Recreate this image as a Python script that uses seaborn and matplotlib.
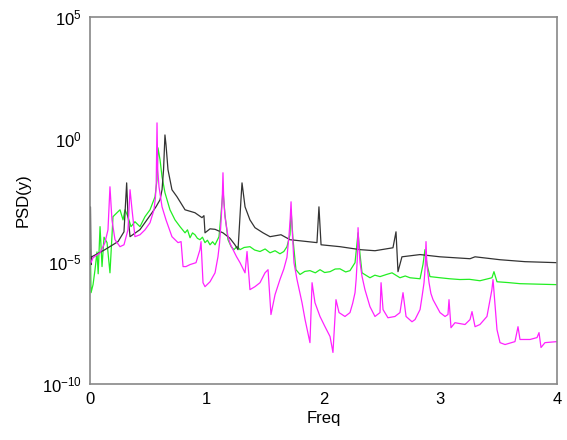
import matplotlib
matplotlib.use("Agg")
import matplotlib.pyplot as plt
import pandas as pd
import seaborn as sns

# ---- data ----
black_f = [0.004, 0.009, 0.015, 0.128, 0.240, 0.291, 0.314, 0.325, 0.343, 0.428, 0.531, 0.565,
           0.600, 0.617, 0.630, 0.642, 0.651, 0.668, 0.702, 0.745, 0.814, 0.899, 0.959,
           0.976, 0.985, 1.028, 1.071, 1.139, 1.199, 1.240, 1.268, 1.293, 1.302, 1.328,
           1.370, 1.413, 1.482, 1.542, 1.636, 1.713, 1.944, 1.961, 1.979, 2.141, 2.313,
           2.441, 2.595, 2.621, 2.638, 2.672, 2.827, 2.998, 3.255, 3.298, 3.512, 3.726, 4.0]
black_psd = [1.74e-3, 7.6e-6, 1.58e-5, 3.1e-5, 6.6e-5, 1.66e-4, 1.66e-2, 8.3e-4, 1.05e-4,
             2.04e-4, 1.0e-3, 1.74e-3, 3.4e-3, 8.7e-3, 5.75e-2, 1.51, 0.6, 5.75e-2, 8.7e-3,
             4.5e-3, 1.32e-3, 1.0e-3, 6.3e-4, 7.6e-4, 1.51e-4, 2.2e-4, 2.1e-4, 1.51e-4,
             9.0e-5, 5.0e-5, 3.1e-5, 3.4e-3, 1.66e-2, 1.74e-3, 5.1e-4, 2.45e-4, 1.51e-4,
             1.05e-4, 1.26e-4, 7.9e-5, 6.0e-5, 1.74e-3, 4.9e-5, 4.1e-5, 3.1e-5, 2.8e-5,
             3.7e-5, 1.66e-4, 3.9e-6, 1.58e-5, 1.95e-5, 1.58e-5, 1.32e-5, 1.58e-5, 1.2e-5,
             1.0e-5, 9.1e-6]

green_f = [0.003, 0.009, 0.026, 0.043, 0.060, 0.070, 0.086, 0.103, 0.120, 0.146, 0.171, 0.197,
           0.231, 0.257, 0.283, 0.300, 0.325, 0.351, 0.385, 0.428, 0.471, 0.514, 0.557,
           0.574, 0.582, 0.600, 0.617, 0.642, 0.685, 0.728, 0.771, 0.814, 0.835, 0.857,
           0.878, 0.899, 0.920, 0.942, 0.963, 0.985, 1.006, 1.028, 1.050, 1.071, 1.105,
           1.122, 1.139, 1.156, 1.182, 1.210, 1.233, 1.260, 1.285, 1.320, 1.370, 1.410,
           1.456, 1.500, 1.542, 1.585, 1.627, 1.660, 1.687, 1.713, 1.722, 1.739, 1.764,
           1.799, 1.840, 1.884, 1.930, 1.970, 2.010, 2.056, 2.100, 2.141, 2.190, 2.227,
           2.270, 2.296, 2.313, 2.330, 2.398, 2.440, 2.484, 2.540, 2.587, 2.655, 2.700,
           2.741, 2.827, 2.852, 2.869, 2.887, 2.912, 2.998, 3.080, 3.169, 3.250, 3.340,
           3.443, 3.460, 3.486, 3.580, 3.683, 3.850, 4.0]
green_psd = [3.1e-5, 5.4e-7, 1.15e-6, 4.7e-6, 2.5e-5, 3.2e-6, 2.7e-4, 6.3e-6, 1.0e-4,
             6.0e-5, 3.5e-6, 6.9e-4, 1.0e-3, 1.32e-3, 5.1e-4, 1.32e-3, 6.9e-4, 2.7e-4,
             4.3e-4, 2.7e-4, 6.9e-4, 1.32e-3, 4.5e-3, 2.2e-2, 0.45, 0.145, 2.95e-2, 6.6e-3,
             1.32e-3, 5.1e-4, 2.7e-4, 1.51e-4, 2.0e-4, 9.5e-5, 1.5e-4, 1.26e-4, 9.0e-5,
             7.9e-5, 1.0e-4, 6.0e-5, 7.5e-5, 4.9e-5, 6.5e-5, 4.9e-5, 1.05e-4, 8.3e-4, 8.7e-3,
             8.3e-4, 7.9e-5, 4.0e-5, 3.1e-5, 4.2e-5, 3.1e-5, 3.8e-5, 4.1e-5, 3.0e-5, 2.6e-5,
             3.3e-5, 2.3e-5, 2.8e-5, 2.1e-5, 2.6e-5, 4.1e-5, 1.26e-4, 1.32e-3, 7.9e-5,
             4.7e-6, 3.0e-6, 4.0e-6, 4.3e-6, 3.5e-6, 4.7e-6, 3.6e-6, 3.9e-6, 5.0e-6, 5.1e-6,
             3.8e-6, 4.3e-6, 9.1e-6, 1.51e-4, 1.95e-5, 3.5e-6, 2.2e-6, 2.8e-6, 2.45e-6,
             3.0e-6, 3.5e-6, 2.2e-6, 2.6e-6, 2.2e-6, 2.0e-6, 7.6e-6, 3.1e-5, 7.6e-6, 2.45e-6,
             2.2e-6, 2.0e-6, 1.86e-6, 1.9e-6, 1.66e-6, 2.2e-6, 3.9e-6, 1.51e-6, 1.4e-6,
             1.26e-6, 1.2e-6, 1.15e-6]

magenta_f = [0.003, 0.009, 0.026, 0.086, 0.128, 0.154, 0.171, 0.188, 0.214, 0.257, 0.291,
             0.325, 0.343, 0.360, 0.385, 0.428, 0.471, 0.514, 0.548, 0.560, 0.567, 0.574,
             0.580, 0.591, 0.617, 0.651, 0.702, 0.754, 0.780, 0.797, 0.822, 0.857, 0.908,
             0.942, 0.951, 0.968, 0.985, 1.028, 1.071, 1.096, 1.110, 1.122, 1.133, 1.139,
             1.145, 1.156, 1.170, 1.182, 1.200, 1.225, 1.255, 1.285, 1.328, 1.345, 1.370,
             1.413, 1.456, 1.499, 1.525, 1.550, 1.585, 1.627, 1.660, 1.687, 1.705, 1.715,
             1.722, 1.730, 1.747, 1.773, 1.816, 1.842, 1.884, 1.902, 1.927, 1.970, 2.013,
             2.056, 2.081, 2.107, 2.133, 2.184, 2.227, 2.250, 2.270, 2.280, 2.289, 2.296,
             2.303, 2.313, 2.330, 2.355, 2.398, 2.441, 2.484, 2.493, 2.510, 2.552, 2.612,
             2.655, 2.681, 2.707, 2.758, 2.784, 2.827, 2.845, 2.861, 2.871, 2.878, 2.885,
             2.904, 2.920, 2.938, 2.998, 3.041, 3.066, 3.075, 3.092, 3.126, 3.212, 3.255,
             3.272, 3.298, 3.340, 3.400, 3.426, 3.442, 3.452, 3.486, 3.512, 3.555, 3.640,
             3.666, 3.683, 3.769, 3.829, 3.846, 3.863, 3.897, 4.0]
magenta_psd = [1.2e-5, 9.1e-6, 1.45e-5, 2.3e-5, 6.0e-5, 2.0e-4, 1.15e-2, 5.1e-4, 7.9e-5,
               4.1e-5, 4.9e-5, 2.0e-4, 8.7e-3, 1.32e-3, 1.05e-4, 1.26e-4, 2.0e-4, 3.9e-4,
               1.32e-3, 4.0e-3, 1.5e-2, 4.7, 6.0e-2, 1.15e-2, 1.74e-3, 5.1e-4, 1.05e-4,
               6.0e-5, 6.6e-5, 6.3e-6, 6.3e-6, 7.6e-6, 9.1e-6, 3.1e-5, 6.6e-5, 1.38e-6,
               9.5e-7, 1.51e-6, 3.5e-6, 1.58e-5, 6.0e-5, 3.9e-4, 4.0e-3, 4.3e-2, 4.0e-3,
               6.9e-4, 2.5e-4, 1.05e-4, 5.5e-5, 3.1e-5, 1.6e-5, 9.1e-6, 3.5e-6, 2.6e-5,
               7.2e-7, 9.5e-7, 1.38e-6, 3.5e-6, 4.7e-6, 6.9e-8, 4.5e-7, 1.86e-6, 5.0e-6,
               1.5e-5, 1.26e-4, 6.0e-4, 2.8e-3, 3.0e-4, 9.1e-6, 1.86e-6, 2.1e-7, 4.3e-8,
               4.9e-9, 1.38e-6, 2.1e-7, 5.75e-8, 2.2e-8, 8.7e-9, 1.95e-9, 2.8e-7, 8.3e-8,
               5.75e-8, 8.3e-8, 2.0e-7, 5.4e-7, 2.0e-6, 1.2e-5, 2.45e-4, 4.0e-5, 9.1e-6,
               2.5e-6, 7.2e-7, 1.45e-7, 5.75e-8, 8.3e-8, 1.38e-6, 1.1e-7, 5.1e-8, 5.75e-8,
               8.3e-8, 5.4e-7, 5.75e-8, 3.5e-8, 4.3e-8, 1.1e-7, 4.0e-7, 1.38e-6, 6.0e-6,
               6.6e-5, 8.0e-6, 1.38e-6, 5.0e-7, 2.8e-7, 8.3e-8, 5.75e-8, 6.9e-8, 2.8e-7,
               2.0e-8, 3.2e-8, 2.7e-8, 4.3e-8, 9.1e-8, 2.2e-8, 2.7e-8, 5.75e-8, 2.8e-7,
               7.0e-7, 1.86e-6, 1.66e-8, 4.9e-9, 4.1e-9, 5.4e-9, 2.2e-8, 6.6e-9, 6.6e-9,
               7.9e-9, 1.26e-8, 3.1e-9, 4.9e-9, 5.4e-9]

x_ticks = [0, 1, 2, 3, 4]
y_ticks = [1e-10, 1e-5, 1e0, 1e5]
y_tick_labels = [r"$10^{-10}$", r"$10^{-5}$", r"$10^{0}$", r"$10^{5}$"]

# ---- plot ----
sns.set_theme(style="white")
plt.rcParams['font.family'] = ['Liberation Sans', 'DejaVu Sans']
plt.rcParams['mathtext.fontset'] = 'custom'
plt.rcParams['mathtext.rm'] = 'Liberation Sans'
plt.rcParams['mathtext.it'] = 'Liberation Sans'

fig = plt.figure(figsize=(5.67, 4.40), dpi=100)
ax = fig.add_axes([90 / 567, 1 - 384 / 440, 467 / 567, 367 / 440])

dg = pd.DataFrame({"f": green_f, "psd": green_psd})
dk = pd.DataFrame({"f": black_f, "psd": black_psd})
dm = pd.DataFrame({"f": magenta_f, "psd": magenta_psd})

sns.lineplot(data=dg, x="f", y="psd", color="#22ee22", linewidth=0.9,
             estimator=None, sort=False, ax=ax)
sns.lineplot(data=dk, x="f", y="psd", color="#333333", linewidth=0.9,
             estimator=None, sort=False, ax=ax)
sns.lineplot(data=dm, x="f", y="psd", color="#ff22ff", linewidth=0.9,
             estimator=None, sort=False, ax=ax)

ax.set_yscale("log")
ax.set_xlim(0, 4)
ax.set_ylim(1e-10, 1e5)
ax.set_xticks(x_ticks)
ax.set_xticklabels([str(t) for t in x_ticks])
ax.set_yticks(y_ticks)
ax.set_yticklabels(y_tick_labels)
ax.minorticks_off()
ax.tick_params(direction="in", length=4, width=0.8, color="#888888",
               labelsize=12, labelcolor="black", pad=6)
for s in ax.spines.values():
    s.set_color("#888888")
    s.set_linewidth(1.2)
ax.set_xlabel("Freq", fontsize=12, color="black", labelpad=3)
ax.set_ylabel("PSD(y)", fontsize=12, color="black", labelpad=8)

fig.savefig("out.png", dpi=100)
